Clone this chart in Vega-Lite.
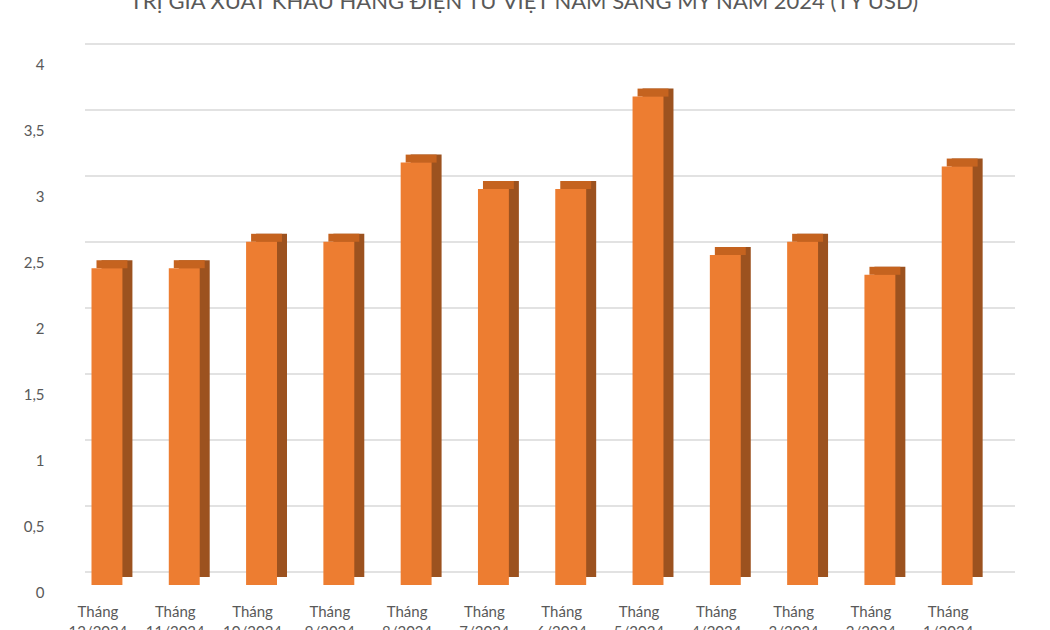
{
  "$schema": "https://vega.github.io/schema/vega-lite/v6.json",
  "width": 930,
  "height": 528,
  "autosize": {"type": "none"},
  "padding": {"left": 85, "top": 57, "right": 35, "bottom": 45},
  "background": "white",
  "config": {"view": {"stroke": null}},
  "title": {
    "text": "TRỊ GIÁ XUẤT KHẨU HÀNG ĐIỆN TỬ VIỆT NAM SANG MỸ NĂM 2024 (TỶ USD)",
    "font": "Lato",
    "fontSize": 22,
    "fontWeight": "normal",
    "color": "#595959",
    "anchor": "middle",
    "frame": "group",
    "baseline": "alphabetic",
    "offset": 12,
    "dx": -26
  },
  "data": {
    "values": [
      {"thang": "Tháng 12/2024", "v": 2.4},
      {"thang": "Tháng 11/2024", "v": 2.4},
      {"thang": "Tháng 10/2024", "v": 2.6},
      {"thang": "Tháng 9/2024", "v": 2.6},
      {"thang": "Tháng 8/2024", "v": 3.2},
      {"thang": "Tháng 7/2024", "v": 3.0},
      {"thang": "Tháng 6/2024", "v": 3.0},
      {"thang": "Tháng 5/2024", "v": 3.7},
      {"thang": "Tháng 4/2024", "v": 2.5},
      {"thang": "Tháng 3/2024", "v": 2.6},
      {"thang": "Tháng 2/2024", "v": 2.35},
      {"thang": "Tháng 1/2024", "v": 3.17}
    ]
  },
  "layer": [
    {
      "data": {"values": [{"g": 0}, {"g": 0.5}, {"g": 1}, {"g": 1.5}, {"g": 2}, {"g": 2.5}, {"g": 3}, {"g": 3.5}, {"g": 4}]},
      "mark": {"type": "rule", "color": "#D9D9D9", "strokeWidth": 1.3, "yOffset": -13},
      "encoding": {
        "y": {
          "field": "g",
          "type": "quantitative",
          "scale": {"domain": [0, 4]},
          "axis": {
            "title": null,
            "domain": false,
            "ticks": false,
            "grid": false,
            "values": [0, 0.5, 1, 1.5, 2, 2.5, 3, 3.5, 4],
            "labelFont": "Lato",
            "labelFontSize": 15,
            "labelColor": "#595959",
            "labelPadding": 41,
            "labelOffset": 7,
            "labelExpr": "replace(toString(datum.value), '.', ',')"
          }
        }
      }
    },
    {
      "mark": {"type": "bar", "color": "#9C521F", "xOffset": 10, "yOffset": -8, "y2Offset": -8},
      "encoding": {
        "x": {
          "field": "thang",
          "type": "nominal",
          "sort": null,
          "scale": {"paddingInner": 0.6, "paddingOuter": 0.316, "align": 0.133},
          "axis": {
            "title": null,
            "domain": false,
            "ticks": false,
            "labelAngle": 0,
            "labelAlign": "center",
            "labelFont": "Lato",
            "labelFontSize": 15,
            "labelColor": "#595959",
            "labelPadding": 19,
            "labelOffset": -9,
            "labelLineHeight": 20,
            "labelBaseline": "top",
            "labelExpr": "split(datum.value, ' ')"
          }
        },
        "y": {"field": "v", "type": "quantitative"}
      }
    },
    {
      "mark": {"type": "bar", "color": "#C5631F", "xOffset": 5, "yOffset": -8, "y2Offset": 0},
      "encoding": {
        "x": {"field": "thang", "type": "nominal", "sort": null},
        "y": {"field": "v", "type": "quantitative"},
        "y2": {"field": "v"}
      }
    },
    {
      "mark": {"type": "bar", "color": "#ED7D31"},
      "encoding": {
        "x": {"field": "thang", "type": "nominal", "sort": null},
        "y": {"field": "v", "type": "quantitative"}
      }
    }
  ]
}
